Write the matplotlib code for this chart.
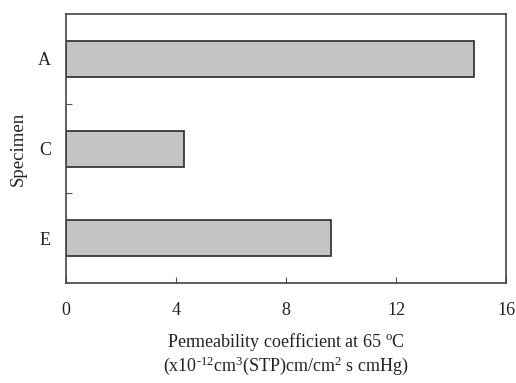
import matplotlib
matplotlib.use("Agg")
import matplotlib.pyplot as plt
from matplotlib.ticker import FixedLocator

specimens = ["A", "C", "E"]
permeability = [14.84, 4.3, 9.64]
x_ticks = [0, 4, 8, 12, 16]

plt.rcParams["font.family"] = ["Liberation Serif", "DejaVu Serif"]
plt.rcParams["mathtext.fontset"] = "custom"
plt.rcParams["mathtext.rm"] = "Liberation Serif"
plt.rcParams["mathtext.it"] = "Liberation Serif:italic"

fig = plt.figure(figsize=(5.16, 3.83), dpi=100)
ax = fig.add_axes([0.128, 0.261, 0.853, 0.702])

pos = list(range(len(specimens)))
ax.barh(pos, permeability, height=0.4, color="#c4c4c4",
        edgecolor="#2a2a2a", linewidth=1.2)

ax.set_xlim(0, 16)
ax.set_ylim(len(specimens) - 0.5, -0.5)
ax.set_xticks(x_ticks)
ax.set_xticklabels([str(t) for t in x_ticks])
ax.set_yticks(pos)
ax.set_yticklabels(specimens)
ax.yaxis.set_minor_locator(FixedLocator([0.5, 1.5]))

ax.tick_params(axis="x", direction="in", length=4, width=0.8,
               colors="#555555", labelcolor="#222222", labelsize=13, pad=14)
ax.tick_params(axis="y", which="major", length=0, labelsize=13,
               labelcolor="#222222", pad=11)
ax.tick_params(axis="y", which="minor", direction="in", length=4,
               width=0.8, colors="#555555")

for s in ax.spines.values():
    s.set_color("#444444")
    s.set_linewidth(1.2)

ax.set_ylabel("Specimen", fontsize=13.5, color="#222222", labelpad=8)
ax.set_xlabel("Permeability coefficient at 65 $^{\\text{o}}$C\n"
              "(x10$^{\\text{-12}}$cm$^{\\text{3}}$(STP)cm/cm$^{\\text{2}}$ s cmHg)",
              fontsize=13, color="#222222", labelpad=8, linespacing=1.12)

fig.savefig("out.png", dpi=100)
